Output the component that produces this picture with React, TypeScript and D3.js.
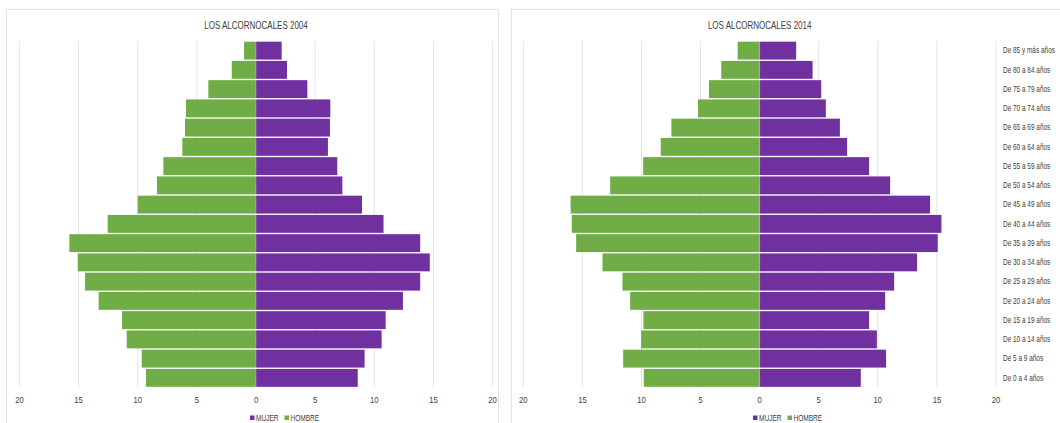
import React from "react";
import * as d3 from "d3";

// Age groups, bottom (youngest) to top (oldest)
const AGE_GROUPS = [
  "De 0 a 4 años", "De 5 a 9 años", "De 10 a 14 años", "De 15 a 19 años",
  "De 20 a 24 años", "De 25 a 29 años", "De 30 a 34 años", "De 35 a 39 años",
  "De 40 a 44 años", "De 45 a 49 años", "De 50 a 54 años", "De 55 a 59 años",
  "De 60 a 64 años", "De 65 a 69 años", "De 70 a 74 años", "De 75 a 79 años",
  "De 80 a 84 años", "De 85 y más años",
];

const HOMBRE_2004 = [9.3, 9.66, 10.93, 11.33, 13.3, 14.45, 15.07, 15.78, 12.54, 10.0, 8.37, 7.83, 6.23, 6.0, 5.92, 4.03, 2.05, 1.01];
const MUJER_2004 = [8.6, 9.18, 10.62, 10.96, 12.42, 13.88, 14.69, 13.88, 10.78, 8.96, 7.3, 6.87, 6.08, 6.25, 6.28, 4.34, 2.62, 2.17];
const HOMBRE_2014 = [9.8, 11.55, 10.03, 9.84, 10.96, 11.61, 13.3, 15.53, 15.9, 16.0, 12.65, 9.86, 8.37, 7.47, 5.22, 4.29, 3.25, 1.86];
const MUJER_2014 = [8.56, 10.7, 9.92, 9.26, 10.62, 11.38, 13.32, 15.07, 15.38, 14.42, 11.04, 9.26, 7.4, 6.79, 5.6, 5.21, 4.48, 3.09];

const TICKS = [-20, -15, -10, -5, 0, 5, 10, 15, 20];
const TITLES = ["LOS ALCORNOCALES 2004", "LOS ALCORNOCALES 2014"];
const LEGEND = ["MUJER", "HOMBRE"];

const GREEN = "#70AD47";
const PURPLE = "#7030A0";
const TEXT = "#404040";
const GRID = "#e4e4e4";
const FONT = "'Liberation Sans', Arial, sans-serif";

function CText({ x, y, sx = 0.78, size, anchor = "middle", children }: any) {
  return (
    <g transform={`translate(${x},${y}) scale(${sx},1)`}>
      <text
        x={0}
        y={0}
        fontSize={size}
        fontFamily={FONT}
        fill={TEXT}
        textAnchor={anchor}
        dominantBaseline="central"
      >
        {children}
      </text>
    </g>
  );
}

function Pyramid({ x0, x1, title, hombre, mujer, showLabels, legendX }: any) {
  const top = 41;
  const bottom = 387.5;
  const x = d3.scaleLinear().domain([-20, 20]).range([x0, x1]);
  const y = d3
    .scaleBand<string>()
    .domain([...AGE_GROUPS].reverse())
    .range([top, bottom])
    .paddingInner(0.07)
    .paddingOuter(0.035);
  const zero = x(0);
  return (
    <g>
      {TICKS.map((t) => (
        <line key={"g" + t} x1={x(t)} x2={x(t)} y1={top} y2={bottom} stroke={GRID} strokeWidth={1} />
      ))}
      <CText x={zero} y={25.5} size={10} sx={0.8}>{title}</CText>
      {AGE_GROUPS.map((a, i) => (
        <g key={a}>
          <rect
            x={x(-hombre[i])}
            y={y(a)}
            width={zero - x(-hombre[i])}
            height={y.bandwidth()}
            fill={GREEN}
          />
          <rect
            x={zero}
            y={y(a)}
            width={x(mujer[i]) - zero}
            height={y.bandwidth()}
            fill={PURPLE}
          />
        </g>
      ))}
      <line x1={zero} x2={zero} y1={top} y2={bottom} stroke="#ffffff" strokeOpacity={0.35} strokeWidth={0.8} />
      {TICKS.map((t) => (
        <CText key={"t" + t} x={x(t)} y={400} size={9} sx={0.85}>{String(Math.abs(t))}</CText>
      ))}
      {showLabels &&
        AGE_GROUPS.map((a) => (
          <CText key={"l" + a} x={x1 + 7} y={(y(a) as number) + y.bandwidth() / 2} size={8.5} sx={0.76} anchor="start">
            {a}
          </CText>
        ))}
      <g>
        <rect x={legendX} y={415.5} width={4.5} height={4.5} fill={PURPLE} />
        <CText x={legendX + 6} y={418} size={8.5} sx={0.77} anchor="start">{LEGEND[0]}</CText>
        <rect x={legendX + 34.5} y={415.5} width={4.5} height={4.5} fill={GREEN} />
        <CText x={legendX + 40.5} y={418} size={8.5} sx={0.77} anchor="start">{LEGEND[1]}</CText>
      </g>
    </g>
  );
}

export default function App() {
  return (
    <svg
      width={1060}
      height={423}
      viewBox="0 0 1060 423"
      style={{ position: "absolute", left: 0, top: 0, display: "block", background: "#ffffff" }}
    >
      <rect x={0} y={0} width={1060} height={423} fill="#ffffff" />
      <rect x={6.5} y={9.5} width={492} height={430} fill="none" stroke="#e2e2e2" strokeWidth={1} />
      <rect x={511.5} y={9.5} width={560} height={430} fill="none" stroke="#e2e2e2" strokeWidth={1} />
      <Pyramid x0={19.4} x1={492.6} title={TITLES[0]} hombre={HOMBRE_2004} mujer={MUJER_2004} showLabels={false} legendX={250} />
      <Pyramid x0={523.3} x1={996} title={TITLES[1]} hombre={HOMBRE_2014} mujer={MUJER_2014} showLabels={true} legendX={753} />
    </svg>
  );
}
